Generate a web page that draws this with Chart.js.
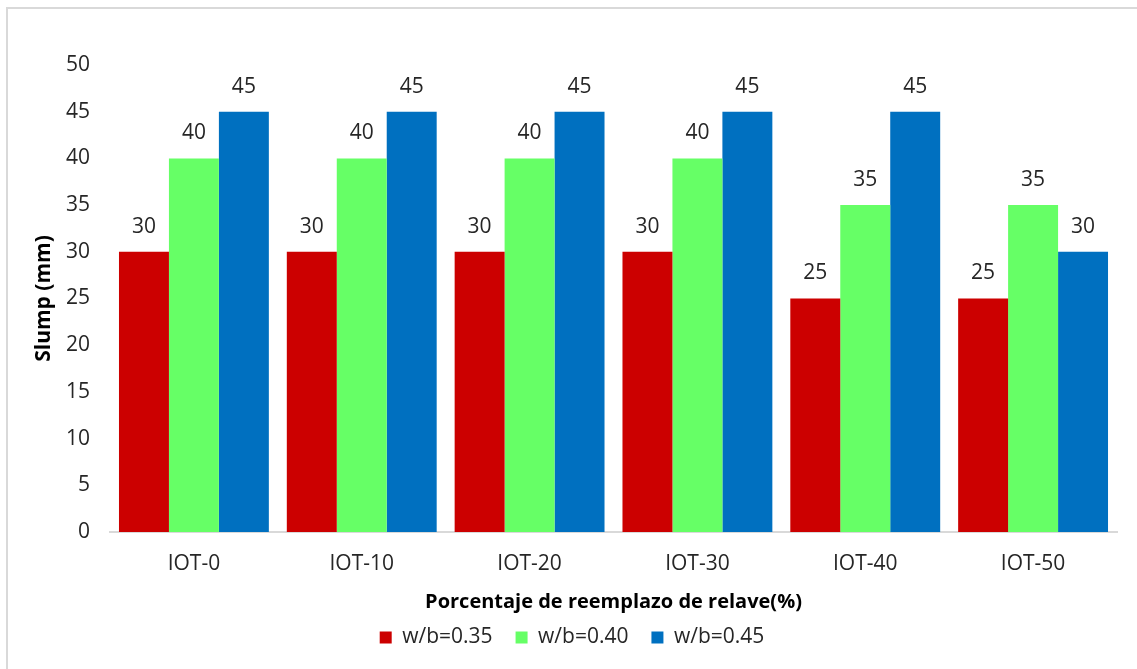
<!DOCTYPE html>
<html>
<head>
<meta charset="utf-8">
<script src="https://cdn.jsdelivr.net/npm/chart.js@4.4.1/dist/chart.umd.min.js"></script>
<style>
  html, body { margin: 0; padding: 0; background: #fff; overflow: hidden; }
  #wrap { position: relative; width: 1137px; height: 669px; }
  #frame {
    position: absolute; left: 6px; top: 7px; width: 1150px; height: 700px;
    border: 2px solid #d9d9d9; box-sizing: border-box;
  }
  #chart { position: absolute; left: 0; top: 0; }
</style>
</head>
<body>
<div id="wrap">
  <div id="frame"></div>
  <canvas id="chart" width="1137" height="669"></canvas>
</div>
<script>
// Slump per tailings replacement level
const categories = ["IOT-0", "IOT-10", "IOT-20", "IOT-30", "IOT-40", "IOT-50"];
const seriesNames = ["w/b=0.35", "w/b=0.40", "w/b=0.45"];
const wb035 = [30, 30, 30, 30, 25, 25];
const wb040 = [40, 40, 40, 40, 35, 35];
const wb045 = [45, 45, 45, 45, 45, 30];
const seriesColors = ["#cc0000", "#66ff66", "#0070c0"];
const yTicks = [0, 5, 10, 15, 20, 25, 30, 35, 40, 45, 50];

const FONT = "'Open Sans', sans-serif";
const TEXT = "#262626";

// Value printed above each bar
const barLabels = {
  id: 'barLabels',
  afterDatasetsDraw(chart) {
    const { ctx } = chart;
    ctx.save();
    ctx.font = `21px ${FONT}`;
    ctx.fillStyle = TEXT;
    ctx.textAlign = 'center';
    ctx.textBaseline = 'middle';
    chart.data.datasets.forEach((ds, i) => {
      chart.getDatasetMeta(i).data.forEach((bar, j) => {
        ctx.fillText(String(ds.data[j]), bar.x, bar.y - 25);
      });
    });
    ctx.restore();
  }
};

const values = [wb035, wb040, wb045];

new Chart(document.getElementById('chart'), {
  type: 'bar',
  data: {
    labels: categories,
    datasets: values.map((v, i) => ({
      label: seriesNames[i],
      data: v,
      backgroundColor: seriesColors[i],
      borderWidth: 0,
      categoryPercentage: 0.893,
      barPercentage: 1.0
    }))
  },
  options: {
    responsive: false,
    animation: false,
    layout: { padding: { left: 27, right: 20, top: 65, bottom: 11 } },
    plugins: {
      legend: {
        position: 'bottom',
        labels: {
          boxWidth: 12,
          boxHeight: 12,
          padding: 23,
          color: TEXT,
          font: { family: FONT, size: 21 }
        }
      },
      tooltip: { enabled: false }
    },
    scales: {
      x: {
        afterFit: s => { s.height = 72; },
        grid: { display: false, drawTicks: false },
        border: { display: true, color: '#d9d9d9', width: 2 },
        ticks: { color: TEXT, font: { family: FONT, size: 21 }, padding: 19 },
        title: {
          display: true,
          text: 'Porcentaje de reemplazo de relave(%)',
          color: '#000',
          font: { family: FONT, size: 20, weight: 'bold' },
          padding: { top: 0, bottom: -10 }
        }
      },
      y: {
        min: 0,
        max: 50,
        afterBuildTicks: s => { s.ticks = yTicks.map(v => ({ value: v })); },
        afterFit: s => { s.width = 83; },
        grid: { display: false, drawTicks: false },
        border: { display: false },
        ticks: { color: TEXT, font: { family: FONT, size: 21 }, padding: 20 },
        title: {
          display: true,
          text: 'Slump (mm)',
          color: '#000',
          font: { family: FONT, size: 21, weight: 'bold' },
          padding: { top: 4, bottom: 4 }
        }
      }
    }
  },
  plugins: [barLabels]
});
</script>
</body>
</html>
